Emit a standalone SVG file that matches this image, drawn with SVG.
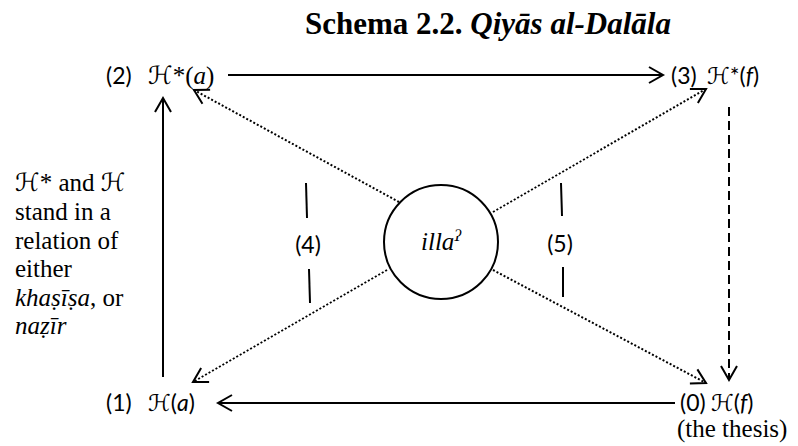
<svg xmlns="http://www.w3.org/2000/svg" width="798" height="446" viewBox="0 0 798 446">
<style>
.t{font-family:"Liberation Serif","Times New Roman",serif;font-size:25px;fill:#000}
.c{font-family:Lato,"Liberation Sans",sans-serif;font-size:23px;fill:#000}
.h{font-family:"DejaVu Serif","DejaVu Sans",serif;font-weight:normal;font-style:normal}
.i{font-style:italic}
.ttl{font-size:31px;font-weight:bold}
.ln{stroke:#000;stroke-width:2;fill:none}
.dot{stroke:#000;stroke-width:2;stroke-dasharray:2 2;fill:none}
.dash{stroke:#000;stroke-width:2;stroke-dasharray:9 5;fill:none}
</style>
<defs>
<marker id="ah" markerUnits="userSpaceOnUse" markerWidth="20" markerHeight="20" viewBox="-16 -10 20 20" refX="0" refY="0" orient="auto">
<path d="M-14,-8 L0,0 L-14,8" fill="none" stroke="#000" stroke-width="2"/>
</marker>
</defs>
<text class="t ttl" x="305" y="34">Schema 2.2. <tspan class="i">Qiyās al-Dalāla</tspan></text>
<g id="connectors">
<line class="ln" x1="228" y1="75" x2="663" y2="75" marker-end="url(#ah)"/>
<line class="ln" x1="163" y1="377" x2="163" y2="98" marker-end="url(#ah)"/>
<line class="ln" x1="675" y1="403" x2="218" y2="403" marker-end="url(#ah)"/>
<line class="dash" x1="729" y1="107" x2="729" y2="380" marker-end="url(#ah)"/>
<line class="dot" x1="399" y1="202" x2="194" y2="90" marker-end="url(#ah)"/>
<line class="dot" x1="493" y1="212" x2="706" y2="89" marker-end="url(#ah)"/>
<line class="dot" x1="387" y1="270" x2="193" y2="382" marker-end="url(#ah)"/>
<line class="dot" x1="493" y1="270" x2="706" y2="383" marker-end="url(#ah)"/>
</g>
<g id="node2">
<text class="c" x="106" y="84">(2)</text>
<text class="t" x="148" y="84"><tspan class="h">ℋ</tspan>*(<tspan class="i">a</tspan>)</text>
</g>
<g id="node3">
<text class="c" x="671" y="84">(3)</text>
<text class="c" x="707" y="84"><tspan class="h">ℋ</tspan>*(<tspan class="i">f</tspan>)</text>
</g>
<g id="node1">
<text class="c" x="106" y="411">(1)</text>
<text class="c" x="148" y="411"><tspan class="h">ℋ</tspan>(<tspan class="i">a</tspan>)</text>
</g>
<g id="node0">
<text class="c" x="680" y="411">(0)</text>
<text class="c" x="711" y="411"><tspan class="h">ℋ</tspan>(<tspan class="i">f</tspan>)</text>
<text class="t" x="677" y="437">(the thesis)</text>
</g>
<g id="illa">
<circle cx="441" cy="242" r="57" fill="none" stroke="#000" stroke-width="2"/>
<text class="t i" x="441" y="250" text-anchor="middle">illa<tspan font-size="16" dy="-9">ʔ</tspan></text>
</g>
<g id="label4">
<line class="ln" x1="306" y1="183" x2="307" y2="218"/>
<text class="c" x="308" y="253" text-anchor="middle">(4)</text>
<line class="ln" x1="309" y1="269" x2="310" y2="303"/>
</g>
<g id="label5">
<line class="ln" x1="561" y1="183" x2="562" y2="216"/>
<text class="c" x="560" y="252" text-anchor="middle">(5)</text>
<line class="ln" x1="563" y1="267" x2="563" y2="297"/>
</g>
<g id="note">
<text class="t" x="15" y="191"><tspan class="h">ℋ</tspan>* and <tspan class="h">ℋ</tspan></text>
<text class="t" x="15" y="220">stand in a</text>
<text class="t" x="15" y="249">relation of</text>
<text class="t" x="15" y="277">either</text>
<text class="t" x="15" y="306"><tspan class="i">khaṣīṣa</tspan>, or</text>
<text class="t i" x="15" y="334">naẓīr</text>
</g>
</svg>
